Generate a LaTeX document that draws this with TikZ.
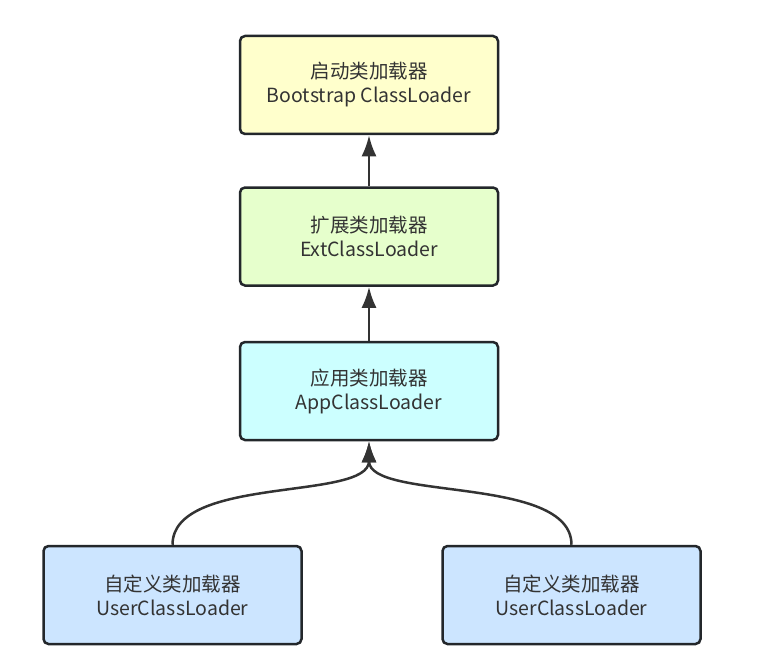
\documentclass[tikz,border=0pt]{standalone}
\usepackage{fontspec}
\setmainfont{Noto Sans CJK SC}
\usetikzlibrary{positioning,arrows.meta}
\definecolor{bootfill}{HTML}{FFFFCC}
\definecolor{extfill}{HTML}{E6FFCC}
\definecolor{appfill}{HTML}{CCFFFF}
\definecolor{userfill}{HTML}{CCE5FF}
\definecolor{edgegray}{HTML}{333333}
\definecolor{boxline}{HTML}{23272B}
\tikzset{
  loaderbox/.style={draw=boxline, line width=2.5pt, rounded corners=5pt,
    minimum width=258pt, minimum height=98pt, align=center, text=edgegray,
    font=\fontsize{19.5}{24}\selectfont},
  parentarrow/.style={draw=edgegray, line width=2.5pt, -{Latex[length=21pt,width=15pt]}}
}
\begin{document}
\begin{tikzpicture}[x=1pt,y=-1pt]
    \useasboundingbox (0,0) rectangle (776,666);
    \node [loaderbox, fill=bootfill] (Boot) at (369,85) {启动类加载器\\Bootstrap ClassLoader};
    \node [loaderbox, fill=extfill, below=51pt of Boot] (Ext) {扩展类加载器\\ExtClassLoader};
    \node [loaderbox, fill=appfill, below=54pt of Ext] (App) {应用类加载器\\AppClassLoader};
    \node [loaderbox, fill=userfill] (UserA) at (172.5,595) {自定义类加载器\\UserClassLoader};
    \node [loaderbox, fill=userfill] (UserB) at (571.5,595) {自定义类加载器\\UserClassLoader};
    \draw [parentarrow] (Ext.north) -- (Boot.south);% Ext up to Bootstrap
    \draw [parentarrow] (App.north) -- (Ext.south);% App up to Ext
    \draw [parentarrow] (UserA.north) .. controls ([yshift=70pt]UserA.north) and ([yshift=-60pt]App.south) .. (App.south);
    \draw [parentarrow] (UserB.north) .. controls ([yshift=70pt]UserB.north) and ([yshift=-60pt]App.south) .. (App.south);
\end{tikzpicture}
\end{document}
